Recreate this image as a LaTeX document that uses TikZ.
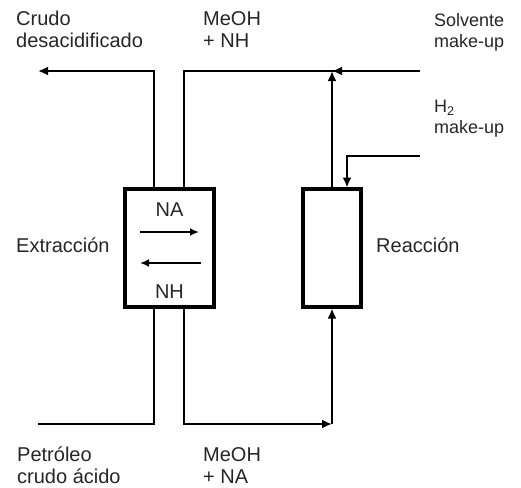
\documentclass[tikz,border=0pt]{standalone}
\usepackage{fontspec}
\setmainfont{Liberation Sans}
\usetikzlibrary{arrows.meta}

\begin{document}
\begin{tikzpicture}[x=1pt,y=-1pt,
    unitbox/.style={draw,line width=3.5pt,inner sep=0pt,outer sep=0pt,anchor=north west},
    stream/.style={line width=2.2pt},
    flow/.style={stream,-{Latex[length=10pt,width=9pt]}},
    inflow/.style={line width=1.8pt,-{Latex[length=9pt,width=8pt]}},
    lbl/.style={font=\fontsize{20}{22}\selectfont,text=black!85,align=left,inner sep=0pt},
    smalllbl/.style={lbl,font=\fontsize{18}{21}\selectfont}]
\useasboundingbox (0,0) rectangle (521,487);

% Units
\node[unitbox,minimum width=89pt,minimum height=118pt] (extr) at (125,189) {};
\node[unitbox,minimum width=58pt,minimum height=118pt] (reac) at (303,189) {};

% Ports and stream ends
\coordinate (exTL) at (154,189);
\coordinate (exTR) at (184,189);
\coordinate (exBL) at (154,307);
\coordinate (exBR) at (184,307);
\coordinate (reH2) at (347,189);
\coordinate (crudoout) at (38,71);
\coordinate (solvin) at (420,71);
\coordinate (mixpt) at (332,71);
\coordinate (h2in) at (420,156);
\coordinate (feedin) at (38,424);
\coordinate (bendpt) at (332,424);

% Streams
\draw[flow] (exTL) |- (crudoout);
\draw[stream] (exTR) |- (solvin);
\draw[flow] (solvin) -- (mixpt);
\draw[flow] (reac.north) -- (mixpt);
\draw[flow,shorten >=1.5pt] (h2in) -| (reH2);
\draw[stream] (feedin) -| (exBL);
\draw[flow] (exBR) |- (bendpt);
\draw[flow,shorten >=1.5pt] (bendpt) -- (reac.south);

% Counter-current arrows
\draw[inflow] (140,232) -- (199,232);
\draw[inflow] (201,263) -- (140,263);

% Labels
\node[lbl,anchor=base] (na) at (169.5,216) {NA};
\node[lbl,anchor=base] (nh) at (169.5,298) {NH};
\node[lbl,anchor=base west] (extrlbl) at (16,252) {Extracción};
\node[lbl,anchor=base west] (reaclbl) at (376,252) {Reacción};
\node[lbl,anchor=north west] (crudolbl) at (16,11) {Crudo\\desacidificado};
\node[lbl,anchor=north west] (meohnh) at (203,11) {MeOH\\+ NH};
\node[smalllbl,anchor=north west] (solvlbl) at (434,13) {Solvente\\make-up};
\node[smalllbl,anchor=north west] (h2lbl) at (434,100) {H\textsubscript{2}\\make-up};
\node[lbl,anchor=north west] (petlbl) at (17,447) {Petróleo\\crudo ácido};
\node[lbl,anchor=north west] (meohna) at (203,447) {MeOH\\+ NA};
\end{tikzpicture}
\end{document}
